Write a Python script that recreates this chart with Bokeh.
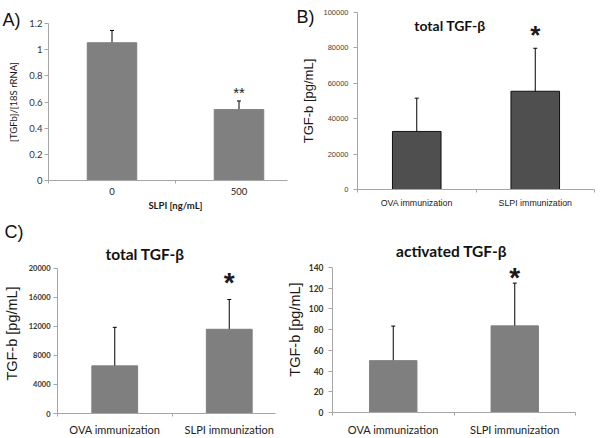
from bokeh.plotting import figure
from bokeh.models import (ColumnDataSource, Whisker, TeeHead, Label, FixedTicker,
                          NumeralTickFormatter, Range1d, LinearAxis,
                          CustomJSTickFormatter)
from bokeh.embed import file_html
from bokeh.resources import INLINE
from bokeh.core.properties import value

# ---------------- data ----------------
# Panel A
a_doses = ["0", "500"]
a_values = [1.053, 0.542]
a_err_low = [0.961, 0.478]
a_err_high = [1.147, 0.608]
a_star_idx = [1]
a_star_y = [0.697]
a_star_text = ["**"]
a_yticks = [0, 0.2, 0.4, 0.6, 0.8, 1.0, 1.2]

# Panels B, C, D
groups = ["OVA immunization", "SLPI immunization"]

b_values = [32800, 55500]
b_err_low = [13950, 31500]
b_err_high = [51600, 79800]
b_star_idx = [1]
b_star_y = [90600]
b_yticks = [0, 20000, 40000, 60000, 80000, 100000]

c_values = [6550, 11580]
c_err_low = [1460, 7480]
c_err_high = [11850, 15680]
c_star_idx = [1]
c_star_y = [18770]
c_yticks = [0, 4000, 8000, 12000, 16000, 20000]

d_values = [50, 83.5]
d_err_low = [16.5, 43.6]
d_err_high = [83.3, 124.7]
d_star_idx = [1]
d_star_y = [135.5]
d_yticks = [0, 20, 40, 60, 80, 100, 120, 140]

W, H = 600, 438
AXIS = "#a6a6a6"
CAL = "Lato"
ARIAL = "Liberation Sans"
ABS = {"position": "absolute", "left": "0px", "top": "0px"}


def centers(n):
    # category i occupies [i, i+1] on the x scale
    return [i + 0.5 for i in range(n)]


def base_fig(cats, yticks, ytop, left, right, top, bottom, sep_end, cat_standoff):
    n = len(cats)
    p = figure(x_range=Range1d(0, n), y_range=Range1d(0, ytop),
               width=W, height=H, min_border_left=left, min_border_right=right,
               min_border_top=top, min_border_bottom=bottom,
               x_axis_location=None,
               output_backend="svg", toolbar_location=None, tools="", styles=ABS)
    p.grid.visible = False
    p.outline_line_color = None
    p.background_fill_color = None
    p.border_fill_color = None
    # Excel-like axis line with separator ticks between categories
    sep_ticks = [t for t in range(n + 1) if t <= sep_end]
    sep = LinearAxis(ticker=FixedTicker(ticks=sep_ticks),
                     bounds=(0, sep_end), axis_line_color=AXIS, major_tick_line_color=AXIS,
                     major_tick_out=3, major_tick_in=0, minor_tick_line_color=None,
                     formatter=CustomJSTickFormatter(code="return ''"),
                     major_label_text_font_size="0px", major_label_standoff=0)
    p.add_layout(sep, "below")
    # category names at category centres
    cat = LinearAxis(ticker=FixedTicker(ticks=centers(n)),
                     formatter=CustomJSTickFormatter(args=dict(cats=cats),
                                                     code="return cats[Math.floor(tick)]"),
                     axis_line_color=None, major_tick_line_color=None,
                     minor_tick_line_color=None, major_tick_out=0, major_tick_in=0,
                     major_label_standoff=cat_standoff)
    p.add_layout(cat, "below")
    yax = p.yaxis[0]
    yax.axis_line_color = AXIS
    yax.bounds = (yticks[0], yticks[-1])
    yax.major_tick_in = 0
    yax.major_tick_out = 4
    yax.major_tick_line_color = AXIS
    yax.minor_tick_line_color = None
    yax.ticker = FixedTicker(ticks=yticks)
    return p, cat, yax


def add_bars(p, cats, vals, lo, hi, width, fill, line):
    src = ColumnDataSource(dict(x=centers(len(cats)), val=vals, lo=lo, hi=hi))
    p.vbar(x="x", top="val", width=width, source=src, fill_color=fill, line_color=line)
    w = Whisker(base="x", lower="lo", upper="hi", source=src, line_color="black",
                line_width=1,
                lower_head=TeeHead(size=4, line_color="black", line_width=1),
                upper_head=TeeHead(size=4, line_color="black", line_width=1))
    p.add_layout(w)


def add_stars(p, idx, ys, texts, size, shift, style="normal"):
    xs = [i + 0.5 for i in idx]
    p.text(x=xs, y=ys, text=texts, text_align="center", text_baseline="middle",
           text_font=value(ARIAL), text_font_size=size, text_font_style=style,
           text_color="#1a1a1a", y_offset=shift)


def style_ticks(cat, yax, yfont, ysize, ystyle, ycolor, ystandoff, xfont, xsize):
    yax.major_label_text_font = yfont
    yax.major_label_text_font_size = ysize
    yax.major_label_text_font_style = ystyle
    yax.major_label_text_color = ycolor
    yax.major_label_standoff = ystandoff
    cat.major_label_text_font = xfont
    cat.major_label_text_font_size = xsize
    cat.major_label_text_color = "#222222"


def ylabel(yax, text, font, size, standoff):
    yax.axis_label = text
    yax.axis_label_text_font = font
    yax.axis_label_text_font_size = size
    yax.axis_label_text_font_style = "normal"
    yax.axis_label_text_color = "#1a1a1a"
    yax.axis_label_standoff = standoff


# ---------------- Panel A ----------------
pa, cat_a, ya = base_fig(a_doses, a_yticks, a_yticks[-1], 48, 298, 23, 258, 1.88, 4)
add_bars(pa, a_doses, a_values, a_err_low, a_err_high, 0.39, "#808080", "#808080")
add_stars(pa, a_star_idx, a_star_y, a_star_text, "15px", 3)
ya.formatter = NumeralTickFormatter(format="0.[0]")
style_ticks(cat_a, ya, CAL, "9.5px", "normal", "#333333", 2, CAL, "9.5px")
ylabel(ya, "[TGFb]/[18S rRNA]", CAL, "9.5px", 7)
cat_a.axis_label = "SLPI [ng/mL]"
cat_a.axis_label_text_font = CAL
cat_a.axis_label_text_font_size = "9.5px"
cat_a.axis_label_text_font_style = "bold"
cat_a.axis_label_text_color = "#1a1a1a"
cat_a.axis_label_standoff = 2

# ---------------- Panel B ----------------
pb, cat_b, yb = base_fig(groups, b_yticks, b_yticks[-1], 357, 6, 12, 249, 2, 5)
add_bars(pb, groups, b_values, b_err_low, b_err_high, 0.41, "#4f4f4f", "#111111")
add_stars(pb, b_star_idx, b_star_y, ["*"], "26px", 6, "bold")
yb.formatter = NumeralTickFormatter(format="0")
style_ticks(cat_b, yb, ARIAL, "7.5px", "normal", "#4a4030", 5, ARIAL, "8.8px")
ylabel(yb, "TGF-b [pg/mL]", ARIAL, "13px", 4)

# ---------------- Panel C ----------------
pc, cat_c, yc = base_fig(groups, c_yticks, 22000, 52, 314, 253, 24, 1.906, 6)
add_bars(pc, groups, c_values, c_err_low, c_err_high, 0.40, "#7f7f7f", "#7f7f7f")
add_stars(pc, c_star_idx, c_star_y, ["*"], "28px", 6, "bold")
yc.formatter = NumeralTickFormatter(format="0")
style_ticks(cat_c, yc, CAL, "7.5px", "bold", "#3a3226", 3, CAL, "11px")
ylabel(yc, "TGF-b [pg/mL]", ARIAL, "14.5px", 6)

# ---------------- Panel D ----------------
pd_, cat_d, yd = base_fig(groups, d_yticks, 160, 332, 25, 246, 25, 2, 7)
add_bars(pd_, groups, d_values, d_err_low, d_err_high, 0.39, "#7f7f7f", "#7f7f7f")
add_stars(pd_, d_star_idx, d_star_y, ["*"], "28px", 6, "bold")
yd.formatter = NumeralTickFormatter(format="0")
style_ticks(cat_d, yd, CAL, "8.5px", "bold", "#3a3226", 5, CAL, "11px")
ylabel(yd, "TGF-b [pg/mL]", ARIAL, "14.5px", 3)

# ---------------- panel letters and titles ----------------
pt = figure(width=W, height=H, x_range=Range1d(0, W), y_range=Range1d(H, 0),
            min_border=0, x_axis_location=None, y_axis_location=None,
            output_backend="svg", toolbar_location=None, tools="", styles=ABS)
pt.grid.visible = False
pt.outline_line_color = None
pt.background_fill_color = None
pt.border_fill_color = None

letters = [("A)", 2, 19.5), ("B)", 296, 16.5), ("C)", 4, 231)]
for txt, x, y in letters:
    pt.add_layout(Label(x=x, y=y, text=txt, text_font=ARIAL, text_font_size="18px",
                        text_align="left", text_baseline="alphabetic", text_color="#111111"))

titles = [("total TGF-β", 449.5, 25, "14px"),
          ("total TGF-β", 144.5, 253, "15.5px"),
          ("activated TGF-β", 451, 250.5, "15.5px")]
for txt, x, y, size in titles:
    pt.add_layout(Label(x=x, y=y, text=txt, text_font=CAL, text_font_size=size,
                        text_font_style="bold", text_align="center",
                        text_baseline="alphabetic", text_color="#111111"))

open("out.html", "w").write(file_html([pa, pb, pc, pd_, pt], INLINE))
